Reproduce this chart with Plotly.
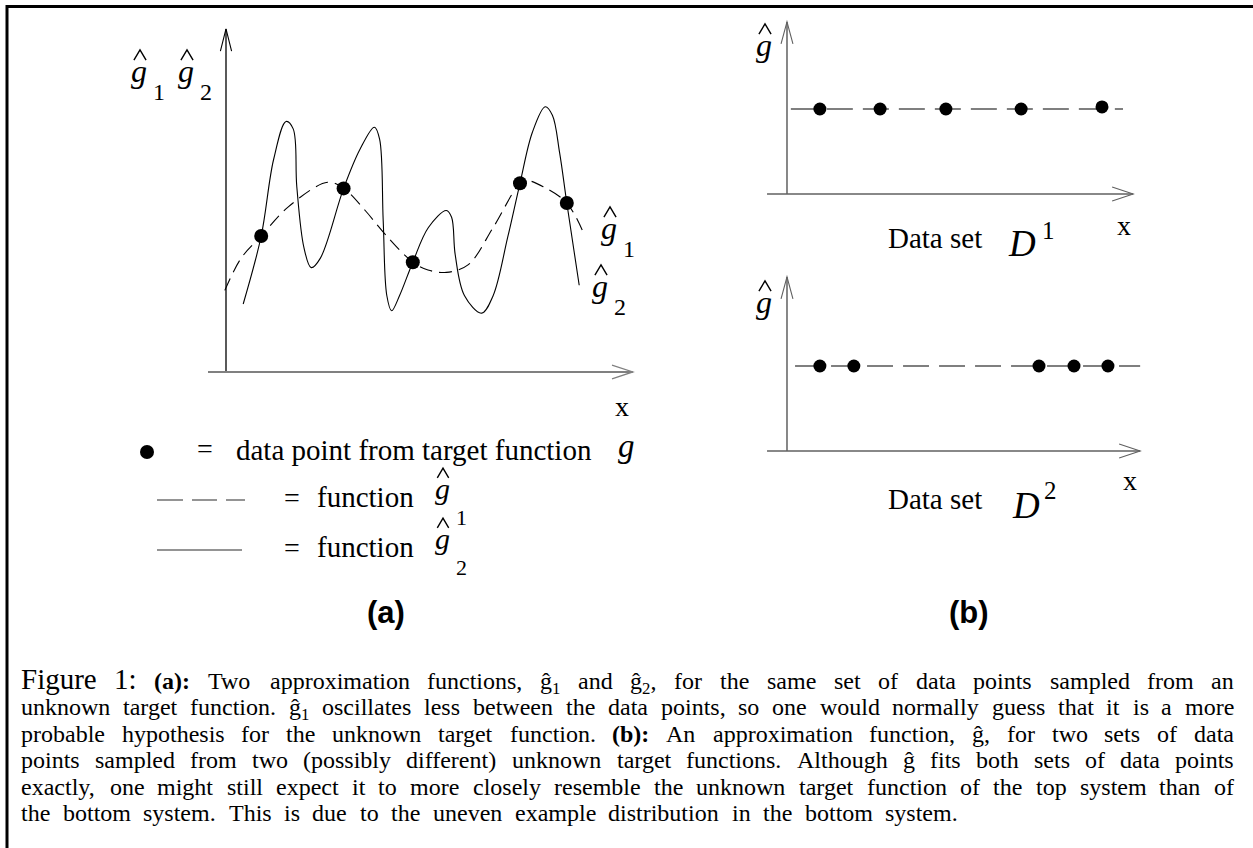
import re
import plotly.graph_objects as go

W, H = 1253, 848

# ---------------- data: panel (a) ----------------
pts_x = [0.88, 2.94, 4.67, 7.35, 8.52]
pts_y = [4.00, 5.40, 3.23, 5.55, 4.97]

g1_x = [-0.03, 0.38, 0.88, 1.55, 2.54, 2.94, 3.48, 3.98, 4.67, 5.05, 5.51, 6.05, 6.68, 7.35, 7.53, 7.93, 8.52, 8.97]
g1_y = [2.40, 3.35, 4.00, 4.85, 5.58, 5.40, 4.75, 4.05, 3.23, 3.00, 2.93, 3.15, 4.25, 5.55, 5.63, 5.45, 4.97, 4.00]

g2_x = [0.43, 0.88, 1.19, 1.50, 1.68, 1.77, 1.95, 2.13, 2.36, 2.94, 3.35, 3.71, 3.84, 3.93, 4.02, 4.14,
        4.34, 4.67, 5.06, 5.51, 5.64, 5.73, 5.96, 6.39, 6.68, 7.04, 7.35, 7.66, 7.98, 8.16, 8.34, 8.52, 8.83]
g2_y = [2.00, 4.00, 6.25, 7.37, 7.15, 5.45, 3.65, 3.07, 3.35, 5.40, 6.55, 7.20, 6.85, 4.45, 2.25, 1.80,
        2.25, 3.23, 4.25, 4.75, 4.55, 3.45, 2.25, 1.73, 2.25, 3.95, 5.55, 7.05, 7.80, 7.55, 6.45, 4.97, 2.55]

# ---------------- data: panel (b) ----------------
d1_x = [0.94, 2.66, 4.54, 6.69, 9.00]
d1_y = [5.0, 5.0, 5.0, 5.0, 5.12]
d1_line_x = [0.11, 9.60]
d1_line_y = [5.0, 5.0]

d2_x = [0.94, 1.91, 7.20, 8.20, 9.17]
d2_y = [5.0, 5.0, 5.0, 5.0, 5.0]
d2_line_x = [0.23, 10.09]
d2_line_y = [5.0, 5.0]

# caption ({..} = subscript)
caption_lines = [
    "Figure 1: (a): Two approximation functions, ĝ{1} and ĝ{2}, for the same set of data points sampled from an",
    "unknown target function. ĝ{1} oscillates less between the data points, so one would normally guess that it is a more",
    "probable hypothesis for the unknown target function. (b): An approximation function, ĝ, for two sets of data",
    "points sampled from two (possibly different) unknown target functions. Although ĝ fits both sets of data points",
    "exactly, one might still expect it to more closely resemble the unknown target function of the top system than of",
    "the bottom system. This is due to the uneven example distribution in the bottom system.",
]
caption_baselines = [688, 714.5, 741, 767.5, 794, 820.5]
caption_line_ends = [1233, 1233, 1233, 1233, 1233, 957]

SERIF = "Liberation Serif"
SANS = "Liberation Sans"

# Times-compatible advance widths (1/1000 em)
TIMES = {" ": 250, "!": 333, "(": 333, ")": 333, ",": 250, "-": 333, ".": 250, ":": 278, ";": 278,
         "A": 722, "B": 667, "C": 667, "D": 722, "E": 611, "F": 556, "G": 722, "H": 722, "I": 333, "T": 611,
         "a": 444, "b": 500, "c": 444, "d": 500, "e": 444, "f": 333, "g": 500, "h": 500, "i": 278, "j": 278,
         "k": 500, "l": 278, "m": 778, "n": 500, "o": 500, "p": 500, "q": 500, "r": 333, "s": 389, "t": 278,
         "u": 500, "v": 500, "w": 722, "x": 500, "y": 500, "z": 444, "ĝ": 500}
TIMES_B = {"(": 333, ")": 333, ":": 333, "a": 500, "b": 556}


def px(x):
    return x / W


def py(y):
    return 1 - y / H


fig = go.Figure()

# panel (a) traces
fig.add_trace(go.Scatter(x=g1_x, y=g1_y, mode="lines", line=dict(color="black", width=1.1, dash="13px,7px", shape="spline", smoothing=1.0),
                         xaxis="x", yaxis="y", showlegend=False, hoverinfo="skip"))
fig.add_trace(go.Scatter(x=g2_x, y=g2_y, mode="lines", line=dict(color="black", width=1.1, shape="spline", smoothing=1.0),
                         xaxis="x", yaxis="y", showlegend=False, hoverinfo="skip"))
fig.add_trace(go.Scatter(x=pts_x, y=pts_y, mode="markers", marker=dict(color="black", size=14),
                         xaxis="x", yaxis="y", showlegend=False, hoverinfo="skip"))

# panel (b) traces
fig.add_trace(go.Scatter(x=d1_line_x, y=d1_line_y, mode="lines", line=dict(color="black", width=1.2, dash="26px,10px"),
                         xaxis="x2", yaxis="y2", showlegend=False, hoverinfo="skip"))
fig.add_trace(go.Scatter(x=d1_x, y=d1_y, mode="markers", marker=dict(color="black", size=13),
                         xaxis="x2", yaxis="y2", showlegend=False, hoverinfo="skip"))
fig.add_trace(go.Scatter(x=d2_line_x, y=d2_line_y, mode="lines", line=dict(color="black", width=1.2, dash="26px,10px"),
                         xaxis="x3", yaxis="y3", showlegend=False, hoverinfo="skip"))
fig.add_trace(go.Scatter(x=d2_x, y=d2_y, mode="markers", marker=dict(color="black", size=13),
                         xaxis="x3", yaxis="y3", showlegend=False, hoverinfo="skip"))

hidden = dict(visible=False, fixedrange=True)
fig.update_layout(
    width=W, height=H, margin=dict(l=0, r=0, t=0, b=0),
    paper_bgcolor="white", plot_bgcolor="rgba(0,0,0,0)",
    xaxis=dict(domain=[px(190), px(660)], range=[-0.9, 10.85], **hidden),
    yaxis=dict(domain=[py(420), py(15)], range=[-1.412, 10.5], **hidden),
    xaxis2=dict(domain=[px(750), px(1170)], range=[-1.057, 10.943], anchor="y2", **hidden),
    yaxis2=dict(domain=[py(215), py(10)], range=[-1.235, 10.824], anchor="x2", **hidden),
    xaxis3=dict(domain=[px(750), px(1170)], range=[-1.057, 10.943], anchor="y3", **hidden),
    yaxis3=dict(domain=[py(475), py(265)], range=[-1.412, 10.941], anchor="x3", **hidden),
)

shapes = []


def seg(xr, yr, pts, color, width):
    path = "M " + " L ".join(f"{a},{b}" for a, b in pts)
    shapes.append(dict(type="path", path=path, xref=xr, yref=yr, line=dict(color=color, width=width)))


def pseg(pts, color="black", width=1.3):
    seg("paper", "paper", [(px(a), py(b)) for a, b in pts], color, width)


# panel (a) axes
seg("x", "y", [(0, 0), (0, 10.09)], "black", 1.3)
seg("x", "y", [(-0.14, 9.44), (0, 10.09), (0.14, 9.44)], "black", 1.1)
seg("x", "y", [(-0.45, 0), (10.17, 0)], "#808080", 2)
seg("x", "y", [(9.65, 0.2), (10.17, 0), (9.65, -0.2)], "#808080", 1.3)
# panel (b) top axes
seg("x2", "y2", [(0, 0), (0, 10.12)], "#606060", 1.5)
seg("x2", "y2", [(-0.17, 8.83), (0, 10.12), (0.17, 8.83)], "#606060", 1.1)
seg("x2", "y2", [(-0.57, 0), (9.89, 0)], "#606060", 1.7)
seg("x2", "y2", [(9.29, 0.41), (9.89, 0), (9.29, -0.41)], "#606060", 1.1)
# panel (b) bottom axes
seg("x3", "y3", [(0, 0), (0, 10.24)], "#606060", 1.5)
seg("x3", "y3", [(-0.17, 8.95), (0, 10.24), (0.17, 8.95)], "#606060", 1.1)
seg("x3", "y3", [(-0.57, 0), (10.09, 0)], "#606060", 1.7)
seg("x3", "y3", [(9.49, 0.41), (10.09, 0), (9.49, -0.41)], "#606060", 1.1)

# legend samples (paper coords)
shapes.append(dict(type="circle", xref="paper", yref="paper", x0=px(140), x1=px(154), y0=py(459), y1=py(445),
                   fillcolor="black", line=dict(width=0)))
for a, b in [(157, 183), (192, 217), (226, 245)]:
    pseg([(a, 500), (b, 500)], "#707070", 1.5)
pseg([(157, 550), (242, 550)], "#707070", 1.5)
# border
pseg([(7, 848), (7, 6.5), (1253, 6.5)], "black", 3)

ann = []


def text(x, y, s, size, family=SERIF, anchor="center", italic=False, bold=False, yanchor="middle"):
    if italic:
        s = f"<i>{s}</i>"
    if bold:
        s = f"<b>{s}</b>"
    ann.append(dict(x=px(x), y=py(y), xref="paper", yref="paper", text=s, showarrow=False,
                    xanchor=anchor, yanchor=yanchor, borderpad=0,
                    font=dict(family=family, size=size, color="black")))


def ghat(x, y, size, sub=None, sub_dx=0.64, sub_dy=0.44):
    # x,y: visual centre of the 'g'; hat drawn as a thin caret shape
    text(x, y - size * 0.22, "g", size, italic=True)
    hb = y - size * 0.34 - 7
    hw = size * 0.19
    pseg([(x - hw + 1, hb), (x + 1, hb - size * 0.32), (x + hw + 1, hb)], "black", 1.4)
    if sub:
        text(x + size * sub_dx, y + size * sub_dy, sub, round(size * 0.74))


# panel (a) labels
ghat(139, 78, 32, "1")
ghat(186, 78, 32, "2")
ghat(609, 235, 32, "1")
ghat(600, 293, 32, "2")
text(622, 406, "x", 28)

# legend text
text(205, 449, "=", 28)
text(235, 450, "data point from target function", 29, anchor="left")
text(626, 446, "g", 33, italic=True)
text(292, 497, "=", 28)
text(316, 497, "function", 29, anchor="left")
ghat(442, 495, 30, "1", sub_dy=0.75)
text(292, 547, "=", 28)
text(316, 547, "function", 29, anchor="left")
ghat(442, 545, 30, "2", sub_dy=0.75)
text(386, 612, "(a)", 31, family=SANS, bold=True)

# panel (b) labels
ghat(764, 52, 32)
ghat(764, 309, 32)
text(1124, 225, "x", 28)
text(1130, 480, "x", 28)
text(887, 238, "Data set", 29, anchor="left")
text(1022, 243, "D", 37, italic=True)
text(1048, 230, "1", 25)
text(887, 499, "Data set", 29, anchor="left")
text(1026, 505, "D", 37, italic=True)
text(1050, 490, "2", 25)
text(969, 612, "(b)", 31, family=SANS, bold=True)


# ---------------- caption (justified, word by word) ----------------
def em_width(word, bold=False):
    total, in_sub = 0.0, False
    for ch in word:
        if ch == "{":
            in_sub = True
            continue
        if ch == "}":
            in_sub = False
            continue
        w = (TIMES_B.get(ch) if bold else None) or TIMES.get(ch, 500)
        total += w * (0.7 if in_sub else 1.0)
    return total / 1000.0


CAP_LEFT = 20
base = 24
big = 29

for li, (line, bl, end) in enumerate(zip(caption_lines, caption_baselines, caption_line_ends)):
    words = line.split(" ")
    info = []
    for wi, wd in enumerate(words):
        is_big = li == 0 and wi < 2
        is_bold = wd in ("(a):", "(b):")
        size = big if is_big else base
        info.append((wd, size, is_bold, em_width(wd, is_bold) * size))
    total = sum(i[3] for i in info)
    gap = (end - CAP_LEFT - total) / (len(info) - 1)
    xcur = CAP_LEFT
    for wd, size, is_bold, wpx in info:
        html = re.sub(r"\{(.*?)\}", r"<sub>\1</sub>", wd)
        text(xcur, bl - 0.891 * size, html, size, anchor="left", bold=is_bold, yanchor="top")
        xcur += wpx + gap

fig.update_layout(shapes=shapes, annotations=ann)

fig.write_html("out.html", include_plotlyjs=True, config={"displayModeBar": False, "staticPlot": True},
               post_script="document.body.style.margin='0';document.body.style.overflow='hidden';")
